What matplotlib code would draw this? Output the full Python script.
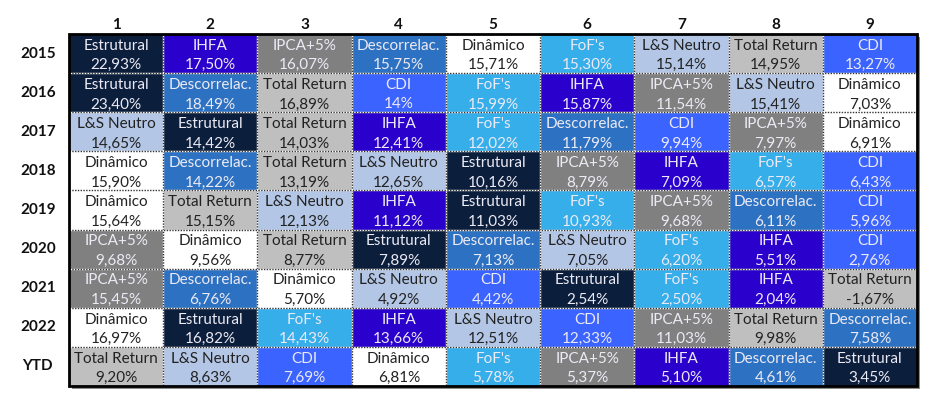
import matplotlib.pyplot as plt
from matplotlib.patches import Rectangle

years = ["2015", "2016", "2017", "2018", "2019", "2020", "2021", "2022", "YTD"]
ranks = ["1", "2", "3", "4", "5", "6", "7", "8", "9"]

names = [
    ["Estrutural", "IHFA", "IPCA+5%", "Descorrelac.", "Dinâmico", "FoF's", "L&S Neutro", "Total Return", "CDI"],
    ["Estrutural", "Descorrelac.", "Total Return", "CDI", "FoF's", "IHFA", "IPCA+5%", "L&S Neutro", "Dinâmico"],
    ["L&S Neutro", "Estrutural", "Total Return", "IHFA", "FoF's", "Descorrelac.", "CDI", "IPCA+5%", "Dinâmico"],
    ["Dinâmico", "Descorrelac.", "Total Return", "L&S Neutro", "Estrutural", "IPCA+5%", "IHFA", "FoF's", "CDI"],
    ["Dinâmico", "Total Return", "L&S Neutro", "IHFA", "Estrutural", "FoF's", "IPCA+5%", "Descorrelac.", "CDI"],
    ["IPCA+5%", "Dinâmico", "Total Return", "Estrutural", "Descorrelac.", "L&S Neutro", "FoF's", "IHFA", "CDI"],
    ["IPCA+5%", "Descorrelac.", "Dinâmico", "L&S Neutro", "CDI", "Estrutural", "FoF's", "IHFA", "Total Return"],
    ["Dinâmico", "Estrutural", "FoF's", "IHFA", "L&S Neutro", "CDI", "IPCA+5%", "Total Return", "Descorrelac."],
    ["Total Return", "L&S Neutro", "CDI", "Dinâmico", "FoF's", "IPCA+5%", "IHFA", "Descorrelac.", "Estrutural"],
]

returns = [
    ["22,93%", "17,50%", "16,07%", "15,75%", "15,71%", "15,30%", "15,14%", "14,95%", "13,27%"],
    ["23,40%", "18,49%", "16,89%", "14%", "15,99%", "15,87%", "11,54%", "15,41%", "7,03%"],
    ["14,65%", "14,42%", "14,03%", "12,41%", "12,02%", "11,79%", "9,94%", "7,97%", "6,91%"],
    ["15,90%", "14,22%", "13,19%", "12,65%", "10,16%", "8,79%", "7,09%", "6,57%", "6,43%"],
    ["15,64%", "15,15%", "12,13%", "11,12%", "11,03%", "10,93%", "9,68%", "6,11%", "5,96%"],
    ["9,68%", "9,56%", "8,77%", "7,89%", "7,13%", "7,05%", "6,20%", "5,51%", "2,76%"],
    ["15,45%", "6,76%", "5,70%", "4,92%", "4,42%", "2,54%", "2,50%", "2,04%", "-1,67%"],
    ["16,97%", "16,82%", "14,43%", "13,66%", "12,51%", "12,33%", "11,03%", "9,98%", "7,58%"],
    ["9,20%", "8,63%", "7,69%", "6,81%", "5,78%", "5,37%", "5,10%", "4,61%", "3,45%"],
]

fill = {
    "Estrutural": "#0b1e3c",
    "IHFA": "#2a00cc",
    "IPCA+5%": "#808080",
    "Descorrelac.": "#2d72c2",
    "Dinâmico": "#ffffff",
    "FoF's": "#36aeea",
    "L&S Neutro": "#b4c6e6",
    "Total Return": "#bfbfbf",
    "CDI": "#3a63ff",
}
dark_text = {"Dinâmico", "L&S Neutro", "Total Return"}

plt.rcParams["font.family"] = ["Lato", "DejaVu Sans"]

fig = plt.figure(figsize=(9.46, 4.18), dpi=100)
ax = fig.add_axes([69 / 946, 1 - 386 / 418, (917 - 69) / 946, (386 - 34) / 418])
nrows, ncols = len(years), len(ranks)
ax.set_xlim(0, ncols)
ax.set_ylim(nrows, 0)
ax.axis("off")

# drop shadow behind the table
ax.add_patch(Rectangle((0.03, 0.08), ncols, nrows, facecolor="#8a8a8a",
                       edgecolor="none", zorder=0, clip_on=False))

for i in range(nrows):
    for j in range(ncols):
        n = names[i][j]
        ax.add_patch(Rectangle((j, i), 1, 1, facecolor=fill[n], edgecolor="none", zorder=1))
        tc = "#222222" if n in dark_text else "#eceaf4"
        ax.text(j + 0.5, i + 0.3, n, ha="center", va="center", color=tc, fontsize=11, zorder=3)
        ax.text(j + 0.5, i + 0.8, returns[i][j], ha="center", va="center", color=tc,
                fontsize=11, zorder=3)

# dotted inner grid
for k in range(1, ncols):
    ax.plot([k, k], [0, nrows], color="white", lw=1, zorder=2)
    ax.plot([k, k], [0, nrows], color="#333333", lw=1, ls=(0, (1, 1)), zorder=2)
for k in range(1, nrows):
    ax.plot([0, ncols], [k, k], color="white", lw=1, zorder=2)
    ax.plot([0, ncols], [k, k], color="#333333", lw=1, ls=(0, (1, 1)), zorder=2)

ax.add_patch(Rectangle((0, 0), ncols, nrows, facecolor="none", edgecolor="black",
                       lw=2, zorder=4, clip_on=False))

for i, y in enumerate(years):
    ax.text(-0.33, i + 0.5, y, ha="center", va="center", fontsize=11,
            fontweight="bold", color="#111111")
for j, r in enumerate(ranks):
    ax.text(j + 0.5, -0.24, r, ha="center", va="center", fontsize=11,
            fontweight="bold", color="#111111")

fig.savefig("out.png", dpi=100)
